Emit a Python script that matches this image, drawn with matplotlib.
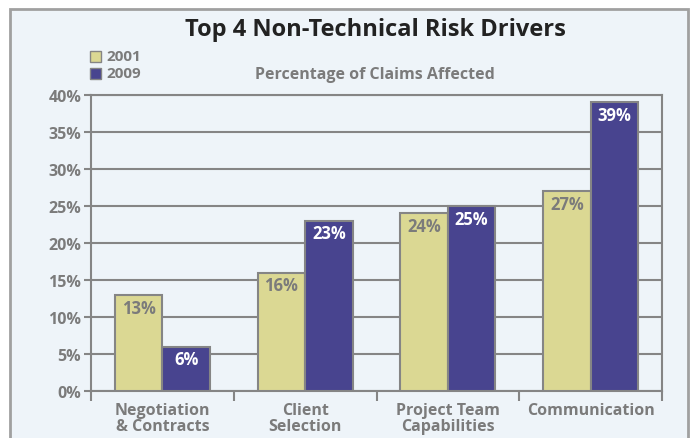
import matplotlib.pyplot as plt
import numpy as np
from matplotlib.patches import Rectangle

categories = ['Negotiation\n& Contracts', 'Client\nSelection', 'Project Team\nCapabilities', 'Communication']
y2001 = [13, 16, 24, 27]
y2009 = [6, 23, 25, 39]
yticks = [0, 5, 10, 15, 20, 25, 30, 35, 40]

plt.rcParams['font.family'] = ['Open Sans', 'DejaVu Sans']

bg = '#eef4f9'
c01 = '#dbd893'
c09 = '#48448f'
gray = '#7b7b7b'
edge = '#858585'

fig = plt.figure(figsize=(6.97, 4.39), dpi=100)
fig.patch.set_facecolor('white')
fig.patches.append(Rectangle((10 / 697, -0.01), 678 / 697, 1 - 10 / 439 + 0.01,
                             transform=fig.transFigure, facecolor=bg,
                             edgecolor='#a0a0a0', linewidth=2, zorder=-5))

ax = fig.add_axes([91 / 697, 1 - 392 / 439, 571 / 697, 296 / 439])
ax.set_facecolor(bg)

x = np.arange(len(categories))
w = 1 / 3
b1 = ax.bar(x - w / 2, y2001, w, color=c01, edgecolor=edge, linewidth=1.5, zorder=3)
b2 = ax.bar(x + w / 2, y2009, w, color=c09, edgecolor=edge, linewidth=1.5, zorder=3)

for r, v in zip(b1, y2001):
    ax.text(r.get_x() + r.get_width() / 2, v - 0.5, f'{v}%', ha='center', va='top',
            color=gray, fontsize=12, fontweight='bold', zorder=4)
for r, v in zip(b2, y2009):
    ax.text(r.get_x() + r.get_width() / 2, v - 0.5, f'{v}%', ha='center', va='top',
            color='white', fontsize=12, fontweight='bold', zorder=4)

ax.set_xlim(-0.5, len(categories) - 0.5)
ax.set_ylim(0, 40)
ax.set_yticks(yticks)
ax.set_yticklabels([f'{t}%' for t in yticks], color=gray, fontsize=11.5, fontweight='bold')
ax.yaxis.grid(True, color=edge, linewidth=1.5, zorder=1)
ax.set_axisbelow(True)
ax.set_xticks(np.arange(-0.5, len(categories)))
ax.set_xticklabels([])
ax.set_xticks(x, minor=True)
ax.set_xticklabels(categories, minor=True, color=gray, fontsize=11.5, fontweight='bold',
                   linespacing=0.95)
ax.tick_params(axis='x', which='minor', length=0, pad=8)
ax.tick_params(axis='x', which='major', length=7, width=1.5, color=edge)
ax.tick_params(axis='y', length=5, width=1.5, color=edge, pad=2)
for s in ax.spines.values():
    s.set_color(edge)
    s.set_linewidth(1.5)

fig.text(375 / 697, 1 - 30 / 439, 'Top 4 Non-Technical Risk Drivers', ha='center', va='center',
         fontsize=17, fontweight='bold', color='#222222')
fig.text(375 / 697, 1 - 75 / 439, 'Percentage of Claims Affected', ha='center', va='center',
         fontsize=11.5, fontweight='bold', color=gray)

fig.patches.append(Rectangle((90 / 697, 1 - 63 / 439), 11 / 697, 11 / 439, transform=fig.transFigure,
                             facecolor=c01, edgecolor=edge, linewidth=1))
fig.patches.append(Rectangle((90 / 697, 1 - 80 / 439), 11 / 697, 11 / 439, transform=fig.transFigure,
                             facecolor=c09, edgecolor=edge, linewidth=1))
fig.text(106 / 697, 1 - 57 / 439, '2001', ha='left', va='center', fontsize=11, fontweight='bold', color=gray)
fig.text(106 / 697, 1 - 74.5 / 439, '2009', ha='left', va='center', fontsize=11, fontweight='bold', color=gray)

plt.savefig('out.png', dpi=100)
